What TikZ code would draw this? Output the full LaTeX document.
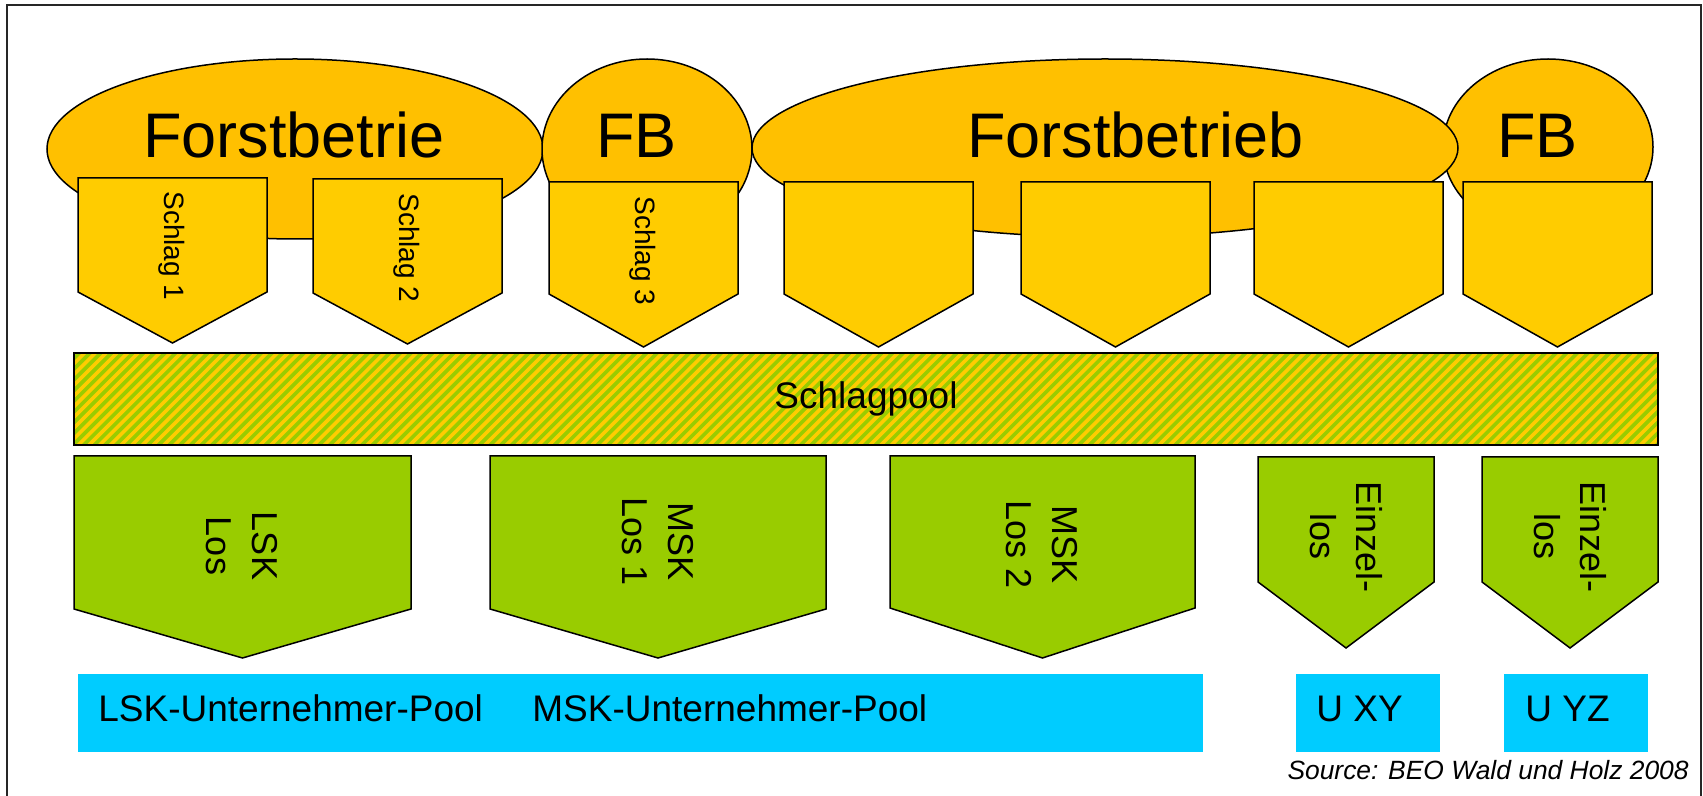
\documentclass[tikz,border=0pt]{standalone}
\usepackage{fontspec}
\setmainfont{Liberation Sans}
\definecolor{ell}{HTML}{FFC000}
\definecolor{arr}{HTML}{FFCC00}
\definecolor{grn}{HTML}{99CC00}
\definecolor{cyn}{HTML}{00CCFF}
\newcommand\pentshape[6]{\draw[#1] (#2,#4) -- (#3,#4) -- (#3,#5) -- ({(#2+#3)/2},#6) -- (#2,#5) -- cycle;}
\begin{document}
\begin{tikzpicture}[x=0.5pt,y=-0.5pt,
  outl/.style={draw=black,line width=0.75pt,line join=miter},
  ellshape/.style={outl,fill=ell},
  yshape/.style={outl,fill=arr},
  gshape/.style={outl,fill=grn},
  title/.style={anchor=base west,inner sep=0pt,font=\fontsize{31.5}{36}\selectfont},
  vtext/.style={rotate=-90,inner sep=0pt,font=\fontsize{14}{16}\selectfont},
  gtext/.style={rotate=-90,inner sep=0pt,align=center,font=\fontsize{18}{23}\selectfont},
  pooltext/.style={anchor=base west,inner sep=0pt,font=\fontsize{18.5}{22}\selectfont},
]
\useasboundingbox (0,0) rectangle (1703,796);
% frame
\draw[line width=1pt,black!85] (7,796) -- (7,5) -- (1701,5) -- (1701,796);
% ellipses
\draw[ellshape] (295,149) ellipse [x radius=248, y radius=90];
\draw[ellshape] (647,149) ellipse [x radius=105, y radius=90];
\draw[ellshape] (1548,147) ellipse [x radius=105, y radius=88];
\draw[ellshape] (1105,148) ellipse [x radius=353, y radius=89];
\node[title] (t1) at (143,158) {Forstbetrie};
\node[title] (t2) at (596,158) {FB};
\node[title] (t3) at (967,158) {Forstbetrieb};
\node[title] (t4) at (1497,158) {FB};
% yellow arrows
\pentshape{yshape}{78}{267}{178}{292}{343}
\pentshape{yshape}{313}{502}{179}{293}{344}
\pentshape{yshape}{549}{738}{182}{294}{347}
\pentshape{yshape}{784}{973}{182}{294}{347}
\pentshape{yshape}{1021}{1210}{182}{294}{347}
\pentshape{yshape}{1254}{1443}{182}{294}{347}
\pentshape{yshape}{1463}{1652}{182}{294}{347}
\node[vtext] (s1) at (172,246) {Schlag 1};
\node[vtext] (s2) at (407,248) {Schlag 2};
\node[vtext] (s3) at (643,251) {Schlag 3};
% Schlagpool
\begin{scope}
\clip (74,353) rectangle (1658,445);
\fill[grn] (74,353) rectangle (1658,445);
\foreach \i in {0,...,160} \draw[arr,line width=1.8pt] ({74-92+\i*10.7},445) -- ({74+\i*10.7},353);
\end{scope}
\draw[outl] (74,353) rectangle (1658,445);
\node[inner sep=0pt,font=\fontsize{18.5}{22}\selectfont] (pool) at (866,399) {Schlagpool};
% green arrows
\pentshape{gshape}{74}{411}{456}{609}{658}
\pentshape{gshape}{490}{826}{456}{609}{658}
\pentshape{gshape}{890}{1195}{456}{608}{658}
\pentshape{gshape}{1258}{1434}{457}{582}{648}
\pentshape{gshape}{1482}{1658}{457}{582}{648}
\node[gtext] (g1) at (242,546) {LSK\\Los};
\node[gtext] (g2) at (658,542) {MSK\\Los 1};
\node[gtext] (g3) at (1042,545) {MSK\\Los 2};
\node[gtext] (g4) at (1346,537) {Einzel-\\los};
\node[gtext] (g5) at (1570,537) {Einzel-\\los};
% contractor pools
\fill[cyn] (78,674) rectangle (1203,752);
\fill[cyn] (1296,674) rectangle (1440,752);
\fill[cyn] (1504,674) rectangle (1648,752);
\node[pooltext] (p1) at (98,721) {LSK-Unternehmer-Pool};
\node[pooltext] (p2) at (532,721) {MSK-Unternehmer-Pool};
\node[pooltext] (p3) at (1316,721) {U XY};
\node[pooltext] (p4) at (1525,721) {U YZ};
\node[anchor=base east,inner sep=0pt,font=\itshape\fontsize{13.2}{15}\selectfont] (src) at (1689,779) {Source: BEO Wald und Holz 2008};
\end{tikzpicture}
\end{document}
